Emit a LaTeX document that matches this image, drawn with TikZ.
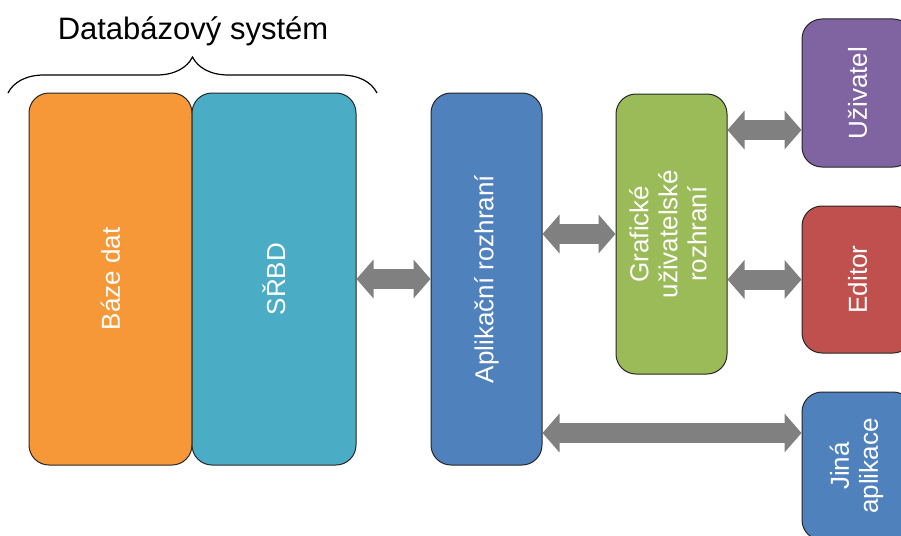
\documentclass[tikz,border=0pt]{standalone}
\usepackage{fontspec}
\setmainfont{Liberation Sans}
\usetikzlibrary{arrows.meta,decorations.pathreplacing}

\definecolor{dborange}{HTML}{F79838}
\definecolor{srbdteal}{HTML}{4BACC6}
\definecolor{apiblue}{HTML}{4F81BD}
\definecolor{guigreen}{HTML}{9BBB59}
\definecolor{userpurple}{HTML}{8064A2}
\definecolor{editorred}{HTML}{C0504D}
\definecolor{arrowgray}{HTML}{808080}

\begin{document}
\begin{tikzpicture}[x=1pt, y=-1pt,
        box/.style={draw=black!85, line width=1pt, rounded corners=20pt, inner sep=0pt,
            text=white, font=\fontsize{26}{29}\selectfont},
        dblarrow/.style={draw=arrowgray, line width=20pt,
            {Triangle[width=38pt,length=17pt]}-{Triangle[width=38pt,length=17pt]}}]
        \useasboundingbox (0,0) rectangle (901,535);
        \clip (0,0) rectangle (901,535);

        % Title with brace
        \node[anchor=base, font=\fontsize{31}{36}\selectfont] (title) at (193,40) {Databázový systém};
        \coordinate (braceL) at (8,93);
        \coordinate (braceR) at (377,93);
        \draw[decorate, decoration={brace, amplitude=36pt}, line width=1.2pt] (braceL) -- (braceR);

        % Database system
        \node[box, fill=dborange, minimum width=163pt, minimum height=372pt] (db) at (110.5,279) {\rotatebox{90}{Báze dat}};
        \node[box, fill=srbdteal, minimum width=164pt, minimum height=372pt] (srbd) at (274,279) {\rotatebox{90}{SŘBD}};

        % Interfaces
        \node[box, fill=apiblue, minimum width=111pt, minimum height=372pt] (api) at (486.5,279) {\rotatebox{90}{Aplikační rozhraní}};
        \node[box, fill=guigreen, minimum width=111pt, minimum height=280pt] (gui) at (671.5,234)
            {\rotatebox{90}{\begin{tabular}{@{}c@{}}Grafické\\uživatelské\\rozhraní\end{tabular}}};

        % Clients
        \node[box, fill=userpurple, minimum width=111pt, minimum height=148pt] (user) at (857.5,93) {\rotatebox{90}{Uživatel}};
        \node[box, fill=editorred, minimum width=111pt, minimum height=147pt] (editor) at (857.5,279.5) {\rotatebox{90}{Editor}};
        \node[box, fill=apiblue, minimum width=111pt, minimum height=148pt] (jina) at (857.5,466)
            {\rotatebox{90}{\begin{tabular}{@{}c@{}}Jiná\\aplikace\end{tabular}}};

        % Arrows
        \coordinate (userin) at ([yshift=-37pt]user.west);
        \coordinate (jinain) at ([yshift=33pt]jina.west);
        \draw[dblarrow] (srbd) -- (api);
        \draw[dblarrow] (api.east |- gui) -- (gui);
        \draw[dblarrow] (gui.east |- userin) -- (userin);
        \draw[dblarrow] (gui.east |- editor) -- (editor);
        \draw[dblarrow] (api.east |- jinain) -- (jinain);
    \end{tikzpicture}
\end{document}
